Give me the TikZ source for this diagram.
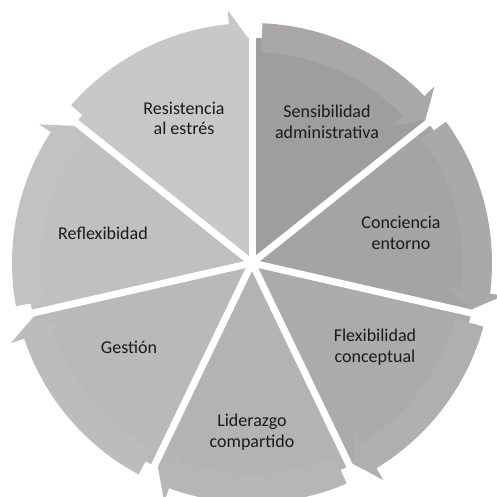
\documentclass[tikz,border=0pt]{standalone}
\usepackage{fontspec}
\setmainfont{Carlito}
\definecolor{w1}{HTML}{9F9D9D}\definecolor{b1}{HTML}{A9A7A7}
\definecolor{w2}{HTML}{A5A4A4}\definecolor{b2}{HTML}{AAA9A9}
\definecolor{w3}{HTML}{ACABAB}\definecolor{b3}{HTML}{B0AFAF}
\definecolor{w4}{HTML}{B4B3B3}\definecolor{b4}{HTML}{B7B6B6}
\definecolor{w5}{HTML}{BAB9B9}\definecolor{b5}{HTML}{BDBCBC}
\definecolor{w6}{HTML}{C1C0C0}\definecolor{b6}{HTML}{C3C2C2}
\definecolor{w7}{HTML}{C9C8C8}\definecolor{b7}{HTML}{C9C8C8}
\definecolor{txt}{HTML}{1A1A1A}
\tikzset{
  lbl/.style={align=center, inner sep=0pt, text=txt, font=\fontsize{18}{20.7}\selectfont},
  gapline/.style={white, line width=7pt}
}
\begin{document}
\begin{tikzpicture}[x=1pt,y=1pt]
\useasboundingbox (-252,-234) rectangle (245,263);
\foreach \S/\wc/\bc in {90/w1/b1, 38.5714/w2/b2, -12.8571/w3/b3, -64.2857/w4/b4, -115.7143/w5/b5, -167.1429/w6/b6, -218.5714/w7/b7}{
  \pgfmathsetmacro{\E}{\S-51.4286}
  \pgfmathsetmacro{\Bs}{\S-2.5}
  \pgfmathsetmacro{\Bh}{\E+5.5}
  \pgfmathsetmacro{\Tp}{\E+1}
  \fill[\wc] (0,0) -- (\S:225pt) arc[start angle=\S, end angle=\E, radius=225pt] -- cycle;
  \fill[\bc] (\Bs:211pt) -- (\Bs:240pt) arc[start angle=\Bs, end angle=\Bh, radius=240pt]
     -- (\Bh:254pt) -- (\Tp:225pt) -- (\Bh:198pt) -- (\Bh:211pt)
     arc[start angle=\Bh, end angle=\Bs, radius=211pt] -- cycle;
}
\coordinate (c) at (0,0);
\foreach \G [count=\i] in {90, 38.5714, -12.8571, -64.2857, -115.7143, -167.1429, 141.4286}{
  \coordinate (g\i) at (\G:265pt);
  \draw[gapline] (c) -- (g\i);
}
\node[lbl] (res) at (-68,144.5) {Resistencia\\al estrés};
\node[lbl] (sen) at (75,141) {Sensibilidad\\administrativa};
\node[lbl] (con) at (149,30) {Conciencia\\entorno};
\node[lbl] (fle) at (123,-84) {Flexibilidad\\conceptual};
\node[lbl] (lid) at (0,-169) {Liderazgo\\compartido};
\node[lbl] (ges) at (-123,-84) {Gestión};
\node[lbl] (ref) at (-149,30) {Reflexibidad};
\end{tikzpicture}
\end{document}
